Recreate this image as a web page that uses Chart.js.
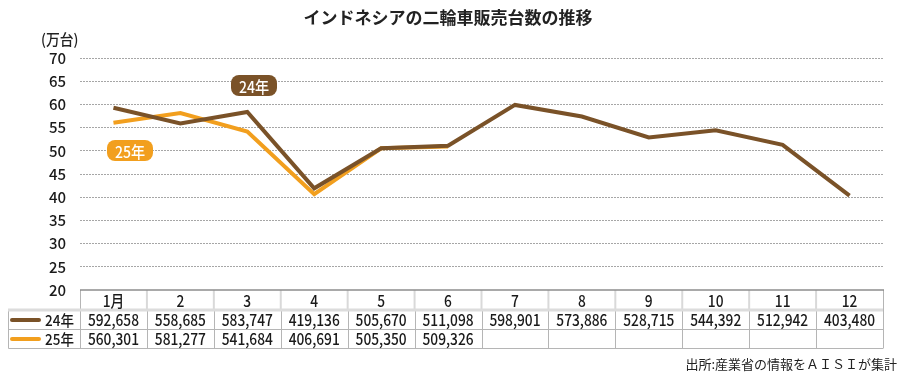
<!DOCTYPE html>
<html>
<head>
<meta charset="utf-8">
<script src="https://cdn.jsdelivr.net/npm/chart.js@4/dist/chart.umd.min.js"></script>
<style>
  body { margin: 0; background: #fff; }
  #wrap { width: 900px; height: 375px; }
</style>
</head>
<body>
<div id="wrap"><canvas id="mycanvas" width="900" height="375"></canvas></div>
<script>
// data
var months = ['1月', '2', '3', '4', '5', '6', '7', '8', '9', '10', '11', '12'];
var sales24 = [592658, 558685, 583747, 419136, 505670, 511098, 598901, 573886, 528715, 544392, 512942, 403480];
var sales25 = [560301, 581277, 541684, 406691, 505350, 509326];
var seriesNames = ['24年', '25年'];
var yTicks = [20, 25, 30, 35, 40, 45, 50, 55, 60, 65, 70];

var brown = '#7a5228';
var orange = '#f29f1e';
var jp = '"Noto Sans CJK JP", sans-serif';

function toMan(v) { return v / 10000; }
function fmt(v) { return v.toLocaleString('en-US'); }

// narrow text: squeeze horizontally like a condensed face
function narrowText(ctx, text, x, y, k) {
  ctx.fillText(text, x, y, ctx.measureText(text).width * (k || 0.86));
}

var tablePlugin = {
  id: 'tablePlugin',
  afterDraw: function(chart) {
    var ctx = chart.ctx;
    var xs = chart.scales.x;
    var step = xs.getPixelForValue(1) - xs.getPixelForValue(0);
    var left = xs.getPixelForValue(0) - step / 2;
    var right = xs.getPixelForValue(months.length - 1) + step / 2;
    var top = chart.chartArea.bottom;
    var hdrB = top + 20, r1B = hdrB + 19, r2B = r1B + 19;
    var tblL = 8;

    ctx.save();
    // title
    ctx.fillStyle = '#222';
    ctx.font = 'bold 17px ' + jp;
    ctx.textAlign = 'center';
    ctx.textBaseline = 'middle';
    ctx.fillText('インドネシアの二輪車販売台数の推移', 448, 18);
    // unit
    ctx.font = '500 15px ' + jp;
    ctx.textAlign = 'left';
    narrowText(ctx, '(万台)', 41, 39, 0.92);
    // source
    ctx.font = '13px ' + jp;
    ctx.textAlign = 'right';
    ctx.fillText('出所:産業省の情報をＡＩＳＩが集計', 897, 364);

    // header separators (light, thick)
    ctx.strokeStyle = '#d9d9d9';
    ctx.lineWidth = 2;
    for (var i = 1; i < months.length; i++) {
      var bx = left + step * i;
      ctx.beginPath(); ctx.moveTo(bx, top); ctx.lineTo(bx, hdrB); ctx.stroke();
    }
    // data row separators
    ctx.strokeStyle = '#b5b5b5';
    ctx.lineWidth = 1;
    for (var i = 1; i < months.length; i++) {
      var bx = Math.round(left + step * i) + 0.5;
      ctx.beginPath(); ctx.moveTo(bx, hdrB); ctx.lineTo(bx, r2B); ctx.stroke();
    }
    ctx.beginPath();
    ctx.moveTo(tblL + 0.5, hdrB); ctx.lineTo(tblL + 0.5, r2B + 0.5);
    ctx.lineTo(right + 0.5, r2B + 0.5);
    ctx.moveTo(tblL, r1B + 0.5); ctx.lineTo(right, r1B + 0.5);
    ctx.moveTo(Math.round(left) + 0.5, top); ctx.lineTo(Math.round(left) + 0.5, r2B);
    ctx.moveTo(Math.round(right) + 0.5, top); ctx.lineTo(Math.round(right) + 0.5, r2B);
    ctx.stroke();
    // header bottom thick line
    ctx.strokeStyle = '#dcdcdc';
    ctx.lineWidth = 3;
    ctx.beginPath(); ctx.moveTo(tblL, hdrB); ctx.lineTo(right, hdrB); ctx.stroke();
    // header top line
    ctx.strokeStyle = '#8c8c8c';
    ctx.lineWidth = 1.5;
    ctx.beginPath(); ctx.moveTo(left, top); ctx.lineTo(right + 1, top); ctx.stroke();

    // header text and values
    ctx.fillStyle = '#1a1a1a';
    ctx.textAlign = 'center';
    ctx.textBaseline = 'middle';
    ctx.font = '500 16px ' + jp;
    var rows = [sales24, sales25];
    for (var i = 0; i < months.length; i++) {
      var cx = xs.getPixelForValue(i);
      narrowText(ctx, months[i], cx, top + 11);
      for (var r = 0; r < rows.length; r++) {
        if (rows[r][i] !== undefined) {
          narrowText(ctx, fmt(rows[r][i]), cx, hdrB + 10 + r * 19);
        }
      }
    }
    // legend column
    var cols = [brown, orange];
    for (var r = 0; r < seriesNames.length; r++) {
      var ly = hdrB + 10 + r * 19;
      ctx.strokeStyle = cols[r];
      ctx.lineWidth = 4;
      ctx.lineCap = 'round';
      ctx.beginPath(); ctx.moveTo(12, ly); ctx.lineTo(39, ly); ctx.stroke();
      ctx.fillStyle = '#1a1a1a';
      ctx.font = '500 15px ' + jp;
      ctx.textAlign = 'left';
      narrowText(ctx, seriesNames[r], 45, ly, 0.9);
    }

    // series badges
    function badge(text, color, x, y, w, h) {
      ctx.fillStyle = color;
      ctx.beginPath();
      ctx.roundRect(x, y, w, h, 8);
      ctx.fill();
      ctx.fillStyle = '#fff';
      ctx.font = '500 16px ' + jp;
      ctx.textAlign = 'center';
      narrowText(ctx, text, x + w / 2, y + h / 2 + 1, 0.88);
    }
    badge(seriesNames[0], brown, 231, 75, 46, 21);
    badge(seriesNames[1], orange, 107, 140, 46, 21);
    ctx.restore();
  }
};

var ctx = document.getElementById('mycanvas');

var lineChart = new Chart(ctx, {
  type: 'line',
  data: {
    labels: months,
    datasets: [
      {
        label: seriesNames[0],
        data: sales24.map(toMan),
        borderColor: brown,
        borderWidth: 4,
        pointRadius: 0,
        tension: 0
      },
      {
        label: seriesNames[1],
        data: sales25.map(toMan),
        borderColor: orange,
        borderWidth: 4,
        pointRadius: 0,
        tension: 0
      }
    ]
  },
  options: {
    responsive: false,
    animation: false,
    devicePixelRatio: 1,
    layout: { padding: { top: 58, bottom: 85, right: 17, left: 0 } },
    plugins: {
      legend: { display: false },
      tooltip: { enabled: false }
    },
    scales: {
      x: {
        display: false,
        offset: true
      },
      y: {
        min: 20,
        max: 70,
        afterFit: function(scale) { scale.width = 80; },
        afterBuildTicks: function(scale) {
          scale.ticks = yTicks.map(function(v) { return { value: v }; });
        },
        ticks: {
          padding: 14,
          color: '#1a1a1a',
          font: { family: jp, size: 15, weight: '500' }
        },
        grid: {
          drawTicks: false,
          color: function(c) { return c.tick && c.tick.value === 20 ? 'rgba(0,0,0,0)' : '#a6a6a6'; },
          lineWidth: 1
        },
        border: { display: false, dash: [2, 1] }
      }
    }
  },
  plugins: [tablePlugin]
});
</script>
</body>
</html>
